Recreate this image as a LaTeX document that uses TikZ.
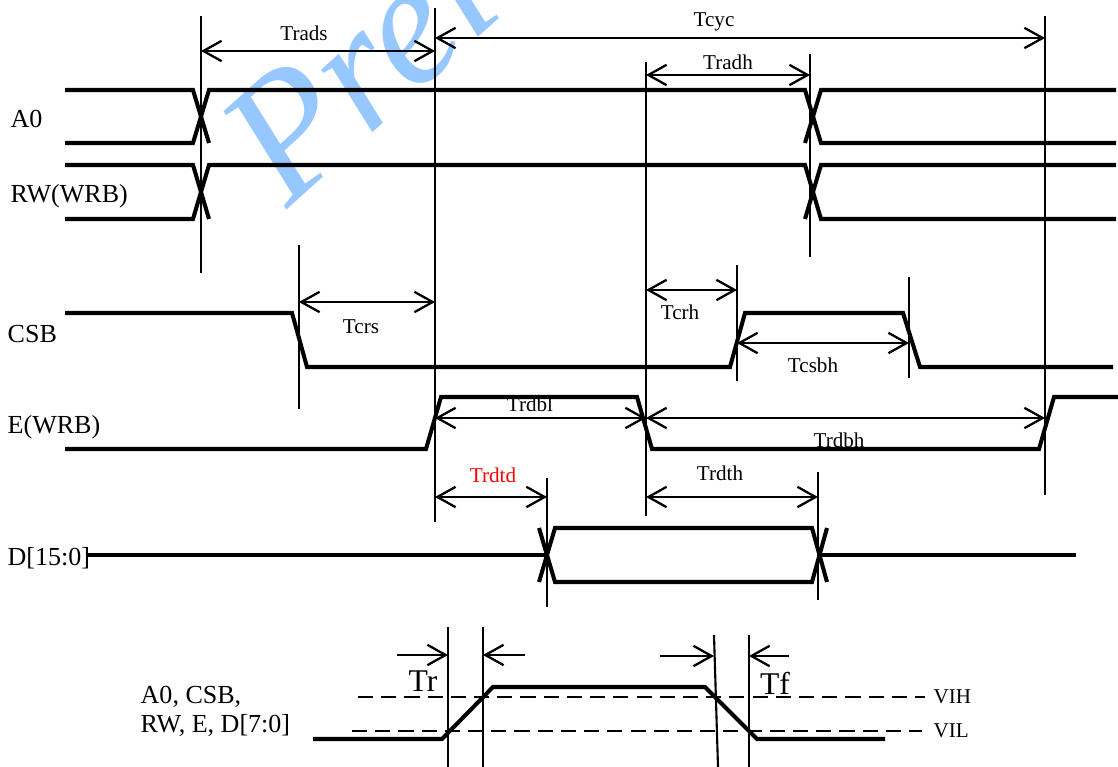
\documentclass[tikz,border=0pt]{standalone}
\usepackage{fontspec}
\setmainfont{Liberation Serif}
\usetikzlibrary{arrows.meta}
\definecolor{wmblue}{RGB}{150,200,255}
\tikzstyle{signal} = [draw, line width=1.15pt, line join=miter]
\tikzstyle{timeline} = [draw, line width=0.6pt]
\tikzstyle{dimarrow} = [draw, line width=0.65pt, {Straight Barb[length=5.2pt,width=5.8pt]}-{Straight Barb[length=5.2pt,width=5.8pt]}]
\tikzstyle{onearrow} = [draw, line width=0.65pt, -{Straight Barb[length=5.2pt,width=5.8pt]}]
\tikzstyle{level} = [draw, line width=0.75pt, dash pattern=on 4.3pt off 2.3pt]
\tikzstyle{siglabel} = [font=\fontsize{7.4}{8}\selectfont, anchor=base west, inner sep=0pt]
\tikzstyle{weight} = [font=\fontsize{6}{7}\selectfont, inner sep=0pt]
\tikzstyle{edgelabel} = [font=\fontsize{9}{10}\selectfont, inner sep=0pt]
\tikzstyle{watermark} = [font=\itshape\fontsize{50}{50}\selectfont, text=wmblue, inner sep=0pt]

\begin{document}
\begin{tikzpicture}[x=0.01cm, y=-0.01cm]
    \useasboundingbox (0,0) rectangle (1118,767);

    % watermark
    \begin{scope}
        \clip (0,0) rectangle (1118,767);
        \node[watermark, rotate=42, anchor=base west] (wm) at (287,210) {Prel};
    \end{scope}

    % time marks
    \foreach \name/\x/\ya/\yb in {tads/201/16/273, tstart/435/8/522, tend/1045/16/495, tdh/646/62/516, tah/810/54/257, tcs/299/245/409, tcr/737/265/381, tcb/909/277/378, tdo/547/478/607, tdz/818/472/600}
    {
        \coordinate (\name-t) at (\x,\ya);
        \coordinate (\name-b) at (\x,\yb);
        \path[timeline] (\name-t) -- (\name-b);
    }

    % signal names
    \foreach \pos/\name/\txt in {{(10,128)/la0/A0}, {(10,203)/lrw/RW(WRB)}, {(7,342)/lcsb/CSB}, {(7,433)/le/E(WRB)}, {(7,565)/ld/D[15:0]}}
        \node[siglabel] (\name) at \pos {\txt};

    % timing arrows and their labels
    \foreach \name/\xa/\xb/\y in {trads/201/435/51, tcyc/435/1045/38, tradh/646/810/75, tcrs/299/435/302, tcrh/646/737/290, tcsbh/737/909/343, trdbl/435/646/418, trdbh/646/1045/418, trdtd/435/547/497, trdth/646/818/497}
    {
        \coordinate (\name-l) at (\xa,\y);
        \coordinate (\name-r) at (\xb,\y);
        \path[dimarrow] (\name-l) -- (\name-r);
    }
    \foreach \pos/\name/\txt in {{(304,33)/ntrads/Trads}, {(714,22)/ntcyc/Tcyc}, {(728,62)/ntradh/Tradh}, {(361,327)/ntcrs/Tcrs}, {(680,312)/ntcrh/Tcrh}, {(813,365)/ntcsbh/Tcsbh}, {(530,404)/ntrdbl/Trdbl}, {(839,440)/ntrdbh/Trdbh}, {(720,473)/ntrdth/Trdth}}
        \node[weight] (\name) at \pos {\txt};
    \node[weight, text=red] (ntrdtd) at (493,475) {Trdtd};

    % A0 and RW(WRB)
    \foreach \hi/\lo in {90/143, 165/219}
    {
        \path[signal] (65,\hi) -- (193,\hi) -- (209,\lo);
        \path[signal] (65,\lo) -- (193,\lo) -- (209,\hi) -- (805,\hi) -- (821,\lo) -- (1116,\lo);
        \path[signal] (805,\lo) -- (821,\hi) -- (1116,\hi);
    }
    % CSB
    \path[signal] (65,313) -- (292,313) -- (307,367) -- (730,367) -- (745,313) -- (903,313) -- (920,367) -- (1113,367);
    % E(WRB)
    \path[signal] (65,449) -- (426,449) -- (441,397) -- (637,397) -- (652,449) -- (1039,449) -- (1054,397) -- (1118,397);
    % D[15:0]
    \path[signal] (88,555) -- (547,555);
    \path[signal] (539,582) -- (555,528) -- (812,528) -- (827,582);
    \path[signal] (539,528) -- (555,582) -- (812,582) -- (827,528);
    \path[signal] (820,555) -- (1076,555);

%rise and fall
    \node[siglabel] (lall) at (140,703) {A0, CSB,};
    \node[siglabel] (lall2) at (140,732) {RW, E, D[7:0]};

    \coordinate (vih-l) at (358,697);
    \coordinate (vih-r) at (925,697);
    \coordinate (vil-l) at (352,731);
    \coordinate (vil-r) at (922,731);
    \path[level] (vih-l) -- (vih-r);
    \path[level] (vil-l) -- (vil-r);
    \node[weight, anchor=west] (nvih) at (933,697) {VIH};
    \node[weight, anchor=west] (nvil) at (933,731) {VIL};

    \path[signal] (313,739) -- (442,739) -- (493,687) -- (705,687) -- (757,739) -- (885,739);

    \foreach \name/\xa/\ya/\xb in {tra/448/627/448, trb/483/627/483, tfa/714/635/718, tfb/749/635/749}
    {
        \coordinate (\name-t) at (\xa,\ya);
        \coordinate (\name-b) at (\xb,767);
        \path[timeline] (\name-t) -- (\name-b);
    }
    \foreach \name/\xa/\xb/\y in {tra/397/448/655, trb/525/483/655, tfa/660/714/656, tfb/789/749/656}
    {
        \coordinate (\name-s) at (\xa,\y);
        \coordinate (\name-e) at (\xb,\y);
        \path[onearrow] (\name-s) -- (\name-e);
    }
    \node[edgelabel] (ntr) at (423,681) {Tr};
    \node[edgelabel] (ntf) at (775,683) {Tf};
\end{tikzpicture}
\end{document}
